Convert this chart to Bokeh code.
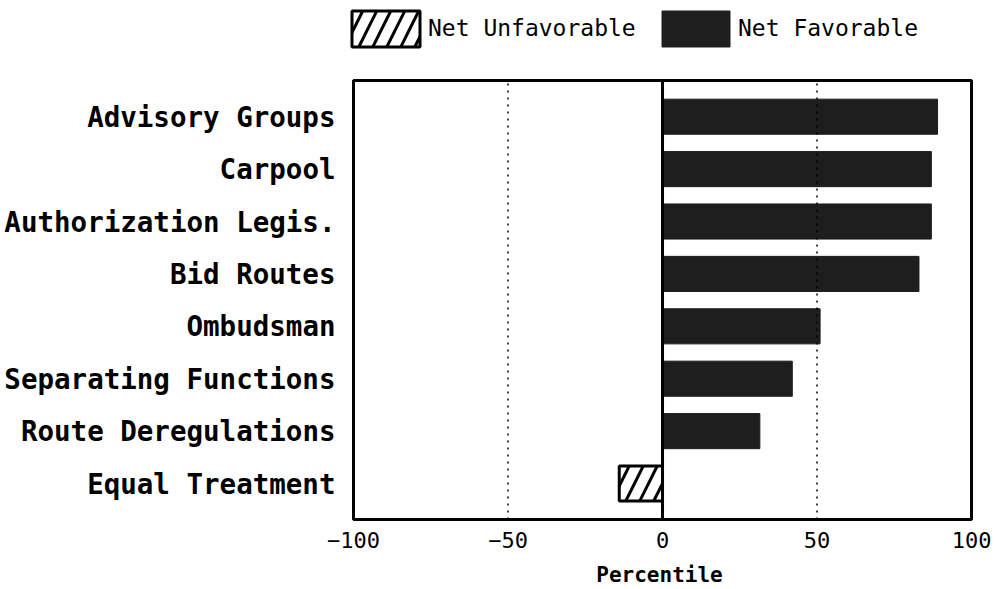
from bokeh.plotting import figure
from bokeh.models import Legend, LegendItem, FixedTicker, Range1d, BoxAnnotation
from bokeh.embed import file_html
from bokeh.resources import INLINE

categories = ["Advisory Groups", "Carpool", "Authorization Legis.", "Bid Routes",
              "Ombudsman", "Separating Functions", "Route Deregulations", "Equal Treatment"]
values = [89, 87, 87, 83, 51, 42, 31.5, -14]
x_ticks = [-100, -50, 0, 50, 100]
grid_lines = [-50, 50]
series_names = ["Net Unfavorable", "Net Favorable"]

# category positions (top to bottom)
n = len(categories)
positions = [n - 1 - i for i in range(n)]

fav_pos = [y for y, v in zip(positions, values) if v >= 0]
fav_vals = [v for v in values if v >= 0]
unf_pos = [y for y, v in zip(positions, values) if v < 0]
unf_vals = [v for v in values if v < 0]

# plot box extent (in axis units)
box_left, box_right = -100, 100
box_bottom, box_top = -0.687, n - 1 + 0.691

p = figure(width=995, height=589, output_backend="svg", toolbar_location=None,
           x_range=Range1d(-103.24, 101.29), y_range=Range1d(-0.763, 9.218),
           min_border_left=343, min_border_right=20, min_border_top=0, min_border_bottom=66)

fav = p.hbar(y=fav_pos, left=0, right=fav_vals, height=0.67,
             fill_color="#1e1e1e", line_color="#1e1e1e", line_width=1)
unf = p.hbar(y=unf_pos, left=unf_vals, right=0, height=0.67,
             fill_color="white", line_color="black", line_width=3,
             hatch_pattern="/", hatch_color="black", hatch_weight=3, hatch_scale=28)

# dotted grid lines and zero line, limited to the box
p.segment(x0=grid_lines, x1=grid_lines, y0=box_bottom, y1=box_top,
          line_color="black", line_width=1.5, line_dash="2 5")
p.segment(x0=[0], x1=[0], y0=box_bottom, y1=box_top, line_color="black", line_width=3)

p.add_layout(BoxAnnotation(left=box_left, right=box_right, bottom=box_bottom, top=box_top,
                           fill_alpha=0, line_color="black", line_alpha=1, line_width=3))

p.xgrid.visible = False
p.ygrid.visible = False
p.outline_line_color = None

p.xaxis.ticker = FixedTicker(ticks=x_ticks)
p.xaxis.axis_line_color = None
p.xaxis.major_tick_line_color = None
p.xaxis.minor_tick_line_color = None
p.xaxis.major_label_text_font = "DejaVu Sans Mono"
p.xaxis.major_label_text_font_size = "22px"
p.xaxis.major_label_text_color = "black"
p.xaxis.major_label_standoff = 2
p.xaxis.axis_label = "Percentile"
p.xaxis.axis_label_text_font = "DejaVu Sans Mono"
p.xaxis.axis_label_text_font_style = "bold"
p.xaxis.axis_label_text_font_size = "21px"
p.xaxis.axis_label_text_color = "black"
p.xaxis.axis_label_standoff = 12

p.yaxis.ticker = FixedTicker(ticks=positions)
p.yaxis.major_label_overrides = {y: c for y, c in zip(positions, categories)}
p.yaxis.axis_line_color = None
p.yaxis.major_tick_line_color = None
p.yaxis.minor_tick_line_color = None
p.yaxis.major_label_text_font = "DejaVu Sans Mono"
p.yaxis.major_label_text_font_style = "bold"
p.yaxis.major_label_text_font_size = "27.5px"
p.yaxis.major_label_text_color = "black"
p.yaxis.major_label_standoff = 2

legend = Legend(items=[LegendItem(label=series_names[0], renderers=[unf]),
                       LegendItem(label=series_names[1], renderers=[fav])],
                orientation="horizontal", location=(0, 472.5),
                glyph_width=85, glyph_height=45, label_standoff=0,
                label_width=220, spacing=5, padding=0,
                label_text_font="DejaVu Sans Mono", label_text_font_size="23px",
                label_text_color="black",
                border_line_alpha=0, background_fill_alpha=0)
p.add_layout(legend, "center")

open("out.html", "w").write(file_html(p, INLINE))
